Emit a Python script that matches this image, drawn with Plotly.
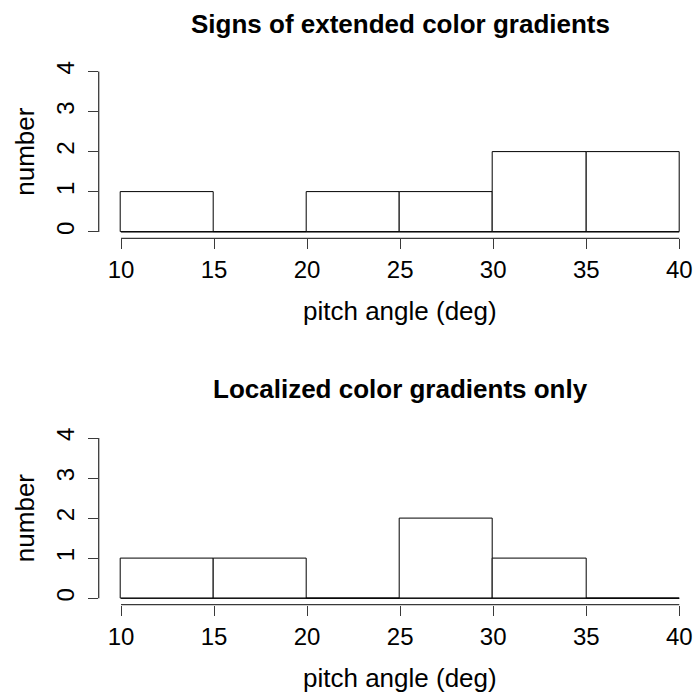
import plotly.graph_objects as go

# Histogram bins (pitch angle, degrees) and counts per bin
breaks = [10, 15, 20, 25, 30, 35, 40]
counts_extended = [1, 0, 1, 1, 2, 2]
counts_localized = [1, 1, 0, 2, 1, 0]

panel_titles = ["Signs of extended color gradients", "Localized color gradients only"]
x_label = "pitch angle (deg)"
y_label = "number"
x_ticks = [10, 15, 20, 25, 30, 35, 40]
y_ticks = [0, 1, 2, 3, 4]

W, H = 699, 696
FONT = "Liberation Sans, Arial, Helvetica, sans-serif"
AXIS_COLOR = "#3a3a3a"

centers = [(a + b) / 2 for a, b in zip(breaks[:-1], breaks[1:])]
widths = [b - a for a, b in zip(breaks[:-1], breaks[1:])]

# x domain (left edge at R-style 4% extension of the bin range)
x_dom = [98.7 / W, 1.0]
# y domains for the two panels (pixel rows converted to paper coords)
y_doms = [[1 - 238.4 / H, 1 - 65.1 / H], [1 - 604.7 / H, 1 - 431.6 / H]]
title_y = [1 - 24 / H, 1 - 389 / H]
xlab_y = [1 - 311 / H, 1 - 678 / H]

fig = go.Figure()
annotations = []
shapes = []

for i, counts in enumerate([counts_extended, counts_localized]):
    xa = "x" if i == 0 else f"x{i+1}"
    ya = "y" if i == 0 else f"y{i+1}"
    fig.add_trace(go.Bar(
        x=centers, y=counts, width=widths, base=0,
        marker=dict(color="white", line=dict(color="black", width=1)),
        xaxis=xa, yaxis=ya, showlegend=False, hoverinfo="skip",
    ))
    # baseline of the histogram (empty bins are drawn as flat rectangles)
    fig.add_trace(go.Scatter(
        x=[breaks[0], breaks[-1]], y=[0, 0], mode="lines",
        line=dict(color="black", width=1),
        xaxis=xa, yaxis=ya, showlegend=False, hoverinfo="skip",
    ))
    axis_common = dict(showgrid=False, zeroline=False, showline=False,
                       ticks="outside", tickcolor=AXIS_COLOR, tickwidth=1,
                       tickfont=dict(family=FONT, size=24, color="black"),
                       automargin=False, fixedrange=True)
    fig.update_layout(**{
        ("xaxis" if i == 0 else f"xaxis{i+1}"): dict(
            domain=x_dom, range=[8.8, 41.06], tickvals=x_ticks, ticklen=10,
            anchor=ya, **axis_common),
        ("yaxis" if i == 0 else f"yaxis{i+1}"): dict(
            domain=y_doms[i], range=[-0.16, 4.16], tickvals=y_ticks, ticklen=10,
            tickangle=-90, ticklabelstandoff=4, anchor=xa, **axis_common),
    })
    # R-style axis lines spanning only the tick range
    shapes.append(dict(type="line", xref=xa, yref="paper",
                       x0=x_ticks[0], x1=x_ticks[-1], y0=y_doms[i][0], y1=y_doms[i][0],
                       line=dict(color=AXIS_COLOR, width=1.3)))
    shapes.append(dict(type="line", xref="paper", yref=ya,
                       x0=x_dom[0], x1=x_dom[0], y0=y_ticks[0], y1=y_ticks[-1],
                       line=dict(color=AXIS_COLOR, width=1.3)))
    annotations.append(dict(text=f"<b>{panel_titles[i]}</b>", xref=xa, yref="paper",
                            x=25, y=title_y[i], xanchor="center", yanchor="middle",
                            showarrow=False, font=dict(family=FONT, size=26, color="black")))
    annotations.append(dict(text=x_label, xref=xa, yref="paper",
                            x=25, y=xlab_y[i], xanchor="center", yanchor="middle",
                            showarrow=False, font=dict(family=FONT, size=26, color="black")))
    annotations.append(dict(text=y_label, xref="paper", yref=ya,
                            x=25 / W, y=2, xanchor="center", yanchor="middle", textangle=-90,
                            showarrow=False, font=dict(family=FONT, size=26, color="black")))

fig.update_layout(
    width=W, height=H, margin=dict(l=0, r=0, t=0, b=0),
    paper_bgcolor="white", plot_bgcolor="white",
    annotations=annotations, shapes=shapes, bargap=0,
)

fig.write_html("out.html", config={"displayModeBar": False})
